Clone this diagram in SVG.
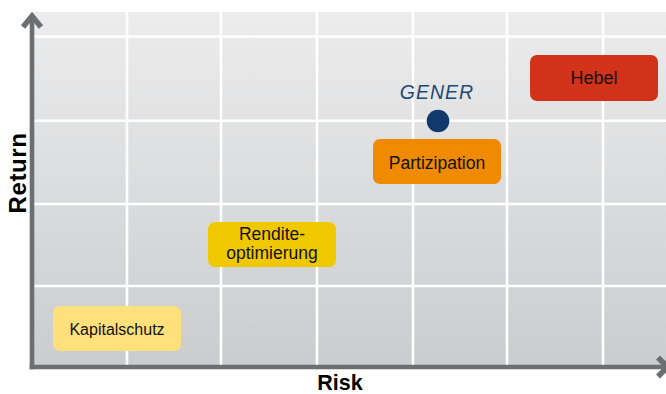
<svg xmlns="http://www.w3.org/2000/svg" width="666" height="394" viewBox="0 0 666 394">
  <defs>
    <linearGradient id="bg" x1="0" y1="0" x2="0" y2="1">
      <stop offset="0" stop-color="#ececed"/>
      <stop offset="1" stop-color="#cbcccd"/>
    </linearGradient>
    <style>
      .grid { stroke: #ffffff; stroke-width: 2.6; fill: none; }
      .axis { stroke: #6d6e70; stroke-width: 4.6; fill: none; }
      .head { stroke: #6d6e70; stroke-width: 5.5; fill: none; stroke-linejoin: miter; stroke-miterlimit: 10; }
      .box { stroke: none; }
      .lbl { font-family: "Liberation Sans", Arial, sans-serif; fill: #111111; text-anchor: middle; }
      .axlbl { font-family: "Liberation Sans", Arial, sans-serif; font-weight: bold; fill: #000000; text-anchor: middle; }
    </style>
  </defs>
  <rect x="0" y="0" width="666" height="394" fill="#ffffff"/>
  <g id="plot">
    <rect x="33" y="12" width="633" height="355" fill="url(#bg)"/>
    <g id="grid">
      <line class="grid" x1="127" y1="12" x2="127" y2="365"/>
      <line class="grid" x1="221" y1="12" x2="221" y2="365"/>
      <line class="grid" x1="317" y1="12" x2="317" y2="365"/>
      <line class="grid" x1="413" y1="12" x2="413" y2="365"/>
      <line class="grid" x1="507" y1="12" x2="507" y2="365"/>
      <line class="grid" x1="603" y1="12" x2="603" y2="365"/>
      <line class="grid" x1="33" y1="36.5" x2="666" y2="36.5"/>
      <line class="grid" x1="33" y1="120.7" x2="666" y2="120.7"/>
      <line class="grid" x1="33" y1="204" x2="666" y2="204"/>
      <line class="grid" x1="33" y1="286" x2="666" y2="286"/>
    </g>
  </g>
  <g id="axes">
    <line class="axis" x1="32" y1="15" x2="32" y2="369.3"/>
    <line class="axis" x1="29.7" y1="367" x2="666" y2="367"/>
    <polyline class="head" points="23,27 32,16 41,27"/>
    <polyline class="head" points="658,357.5 667.5,367 658,376.5"/>
    <text class="axlbl" font-size="24" letter-spacing="0.6" transform="translate(25.5,173) rotate(-90)">Return</text>
    <text class="axlbl" font-size="21.5" x="340" y="389.5">Risk</text>
  </g>
  <g id="kapitalschutz">
    <rect class="box" x="53" y="306" width="128" height="45" rx="7" fill="#ffe07a"/>
    <text class="lbl" font-size="16" x="117" y="334.5">Kapitalschutz</text>
  </g>
  <g id="renditeoptimierung">
    <rect class="box" x="208" y="222" width="128" height="45" rx="7" fill="#f0c800"/>
    <text class="lbl" font-size="17.5" x="272" y="240">Rendite-</text>
    <text class="lbl" font-size="17.5" x="272" y="259">optimierung</text>
  </g>
  <g id="partizipation">
    <rect class="box" x="373" y="139" width="128" height="45" rx="7" fill="#f08a00"/>
    <text class="lbl" font-size="17.5" x="437" y="169">Partizipation</text>
  </g>
  <g id="hebel">
    <rect class="box" x="530" y="55" width="128" height="46" rx="7" fill="#d3321a"/>
    <text class="lbl" font-size="18" x="594" y="84">Hebel</text>
  </g>
  <g id="gener">
    <circle cx="438" cy="121" r="11.3" fill="#0f3a6b"/>
    <text font-family="Liberation Sans, Arial, sans-serif" font-style="italic" font-size="19.5" letter-spacing="1" fill="#1e4a78" text-anchor="middle" x="437" y="99">GENER</text>
  </g>
</svg>
